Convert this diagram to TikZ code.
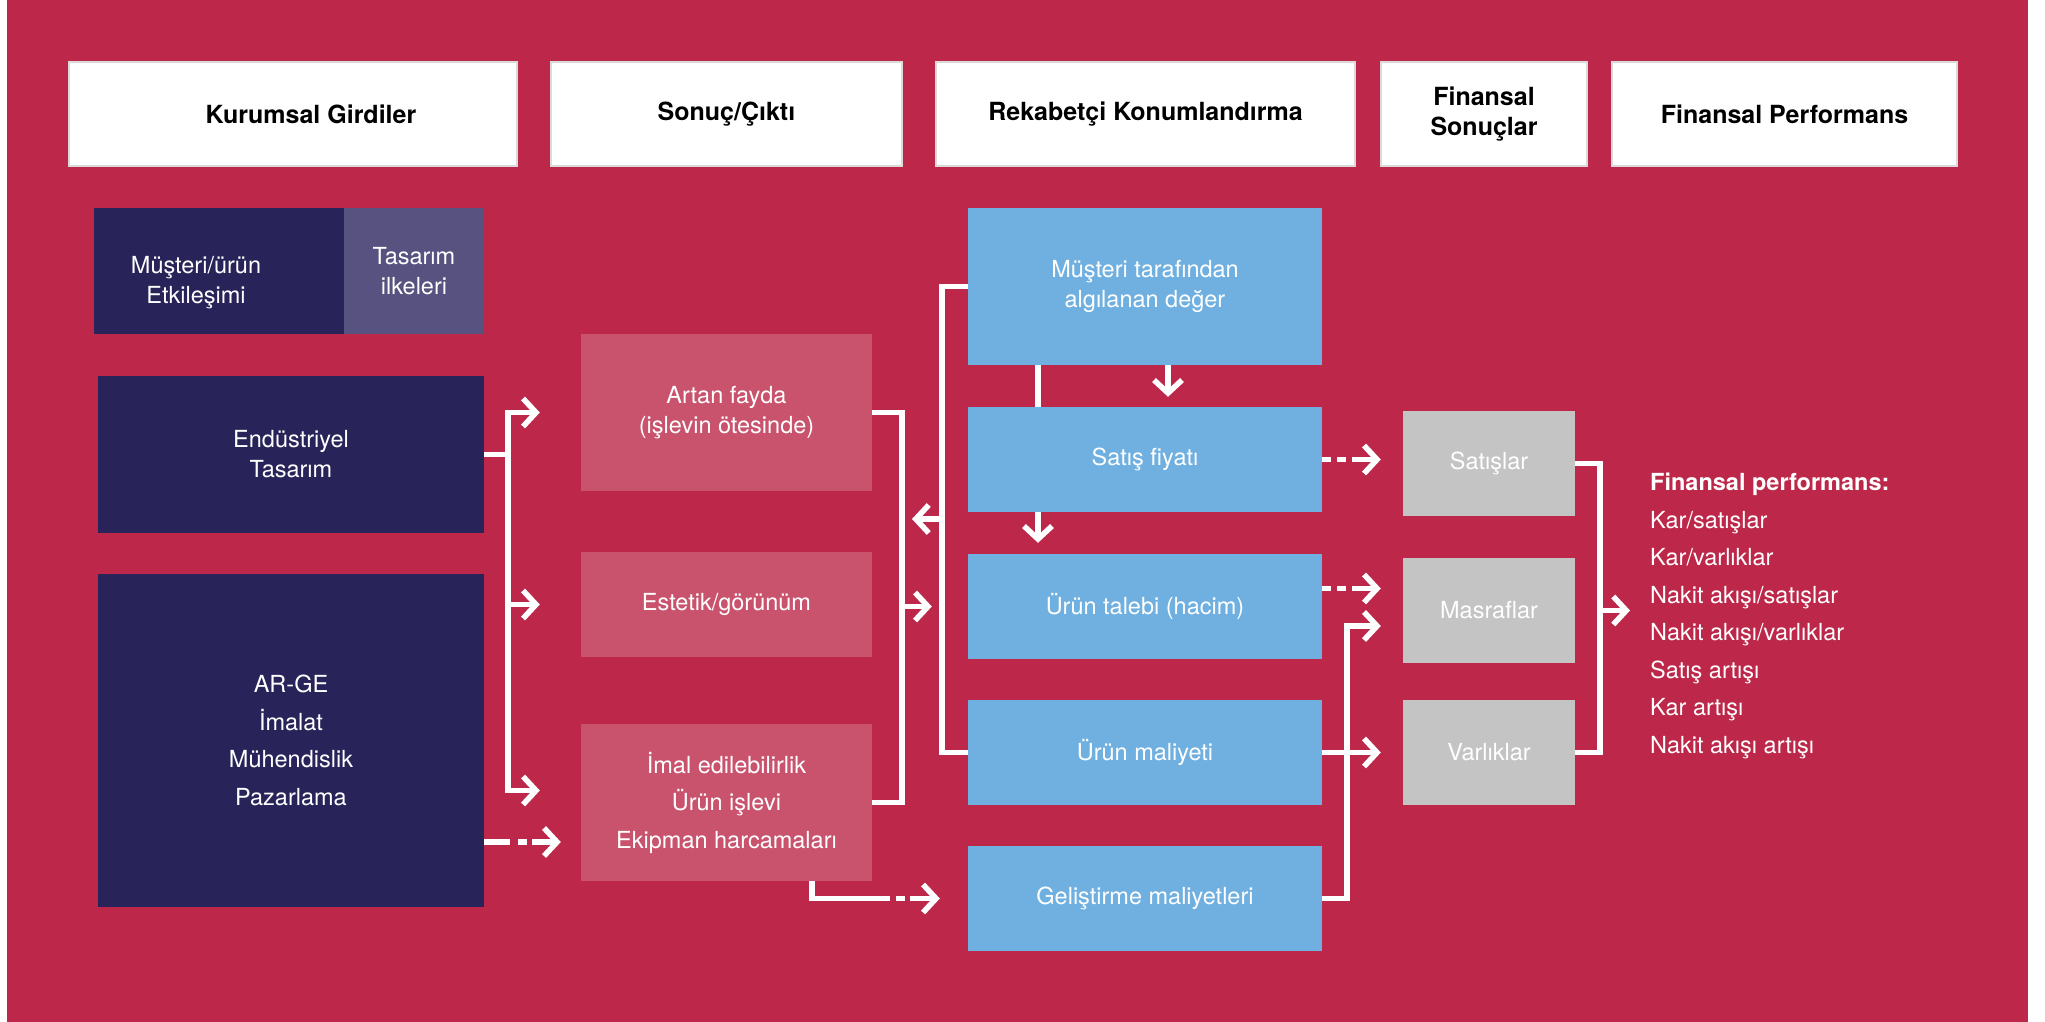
\documentclass[tikz,border=0pt]{standalone}
\usepackage{fontspec}
\setmainfont{TeX Gyre Heros}
\usetikzlibrary{arrows.meta,positioning}
\definecolor{bgcol}{RGB}{189,40,74}
\definecolor{navycol}{RGB}{40,36,90}
\definecolor{violetcol}{RGB}{87,82,127}
\definecolor{pinkcol}{RGB}{201,83,109}
\definecolor{bluecol}{RGB}{111,176,224}
\definecolor{greycol}{RGB}{196,196,196}
\definecolor{rulecol}{RGB}{218,218,218}

\begin{document}
\begin{tikzpicture}[x=1bp,y=-1bp,
  box/.style={rectangle, inner sep=0bp, align=center, text=white,
    font=\fontsize{23.5bp}{30bp}\selectfont},
  wide/.style={font=\fontsize{23.5bp}{37.5bp}\selectfont},
  headbox/.style={box, fill=white, draw=rulecol, line width=2bp, text=black,
    minimum height=104bp, font=\bfseries\fontsize{25bp}{30bp}\selectfont},
  navybox/.style={box, fill=navycol},
  violetbox/.style={box, fill=violetcol},
  pinkbox/.style={box, fill=pinkcol, minimum width=291bp},
  bluebox/.style={box, fill=bluecol, minimum width=354bp, minimum height=105bp},
  greybox/.style={box, fill=greycol, minimum width=172bp, minimum height=105bp},
  wire/.style={draw=white, line width=5.5bp},
  flow/.style={wire, -{Straight Barb[length=13bp,width=28bp]}},
  dashflow/.style={flow, dash pattern=on 26bp off 8bp on 9bp off 5bp on 100bp},
  tapflow/.style={flow, dash pattern=on 95bp off 6bp on 9bp off 5bp on 100bp},
  dotflow/.style={flow, dash pattern=on 9bp off 6bp on 9bp off 6bp on 100bp}]
\useasboundingbox (0,0) rectangle (2045,1022);
\fill[bgcol] (6.5,0) rectangle (2028,1022);
%%
  % Node: column heads
  \node[headbox, minimum width=448bp] (hinput) at (293,114) {\hspace*{36bp}Kurumsal Girdiler};
  \node[headbox, minimum width=351bp] (houtput) at (726.5,114) {Sonuç/Çıktı};
  \node[headbox, minimum width=419bp] (hposition) at (1145.5,114) {Rekabetçi Konumlandırma};
  \node[headbox, minimum width=206bp] (hresult) at (1484,114) {Finansal\\Sonuçlar};
  \node[headbox, minimum width=345bp] (hperf) at (1784.5,114) {Finansal Performans};
  % Node: inputs
  \node[navybox, minimum width=250bp, minimum height=126bp] (interact) at (219,271) {\rule{0pt}{40bp}Müşteri/ürün\hspace*{46bp}\\Etkileşimi\hspace*{46bp}};
  \node[violetbox, minimum width=140bp, minimum height=126bp] (principles) at (414,271) {Tasarım\\ilkeleri};
  \node[navybox, minimum width=386bp, minimum height=157bp] (industrial) at (291,454.5) {Endüstriyel\\Tasarım};
  \node[navybox, wide, minimum width=386bp, minimum height=333bp] (rnd) at (291,740.5) {AR-GE\\İmalat\\Mühendislik\\Pazarlama};
  % Node: outputs
  \node[pinkbox, minimum height=157bp] (benefit) at (726.5,412.5) {Artan fayda\\(işlevin ötesinde)};
  \node[pinkbox, minimum height=105bp] (aesthetic) at (726.5,604.5) {Estetik/görünüm};
  \node[pinkbox, wide, minimum height=157bp] (function) at (726.5,802.5) {İmal edilebilirlik\\Ürün işlevi\\Ekipman harcamaları};
  % Node: positioning
  \node[bluebox, minimum height=157bp] (value) at (1145,286.5) {Müşteri tarafından\\algılanan değer};
  \node[bluebox] (price) at (1145,459.5) {Satış fiyatı};
  \node[bluebox] (demand) at (1145,606.5) {Ürün talebi (hacim)};
  \node[bluebox] (unitcost) at (1145,752.5) {Ürün maliyeti};
  \node[bluebox] (devcost) at (1145,898.5) {Geliştirme maliyetleri};
  % Node: results
  \node[greybox] (sales) at (1489,463.5) {Satışlar};
  \node[greybox] (expenses) at (1489,610.5) {Masraflar};
  \node[greybox] (assets) at (1489,752.5) {Varlıklar};
  % Node: performance list
  \node[anchor=north west, inner sep=0bp, align=left, text=white,
    font=\fontsize{23.5bp}{37.5bp}\selectfont] (perflist) at (1650,473)
    {\textbf{Finansal performans:}\\Kar/satışlar\\Kar/varlıklar\\Nakit akışı/satışlar\\Nakit akışı/varlıklar\\Satış artışı\\Kar artışı\\Nakit akışı artışı};
%
  \coordinate (inbus) at (508,0);
  \coordinate (outbus) at (902,0);
  \coordinate (backbus) at (942,0);
  \coordinate (backin) at (912,519);
  \coordinate (leftdrop) at (1038,0);
  \coordinate (rightdrop) at (1168,0);
  \coordinate (devtap) at (812,0);
  \coordinate (costbus) at (1347,0);
  \coordinate (resbus) at (1600,0);
  \coordinate (perfin) at (1630,610.5);
  % Edge: industrial -> benefit, aesthetic, function
  \draw[flow, shorten >=41bp] (industrial.east) -| (inbus |- benefit.west) -- (benefit.west);
  \draw[flow, shorten >=41bp] (inbus |- industrial.east) |- ([yshift=12bp]function.west);
  \draw[flow, shorten >=41bp] (inbus |- aesthetic.west) -- (aesthetic.west);
  % Edge: rnd -> function
  \draw[dashflow, shorten >=20bp] (rnd.east |- 0,842) -- (function.west |- 0,842);
  % Edge: benefit, function -> demand
  \draw[wire] (benefit.east) -| (outbus |- function.east) -- (function.east);
  \draw[flow, shorten >=36bp] (outbus |- demand.west) -- (demand.west);
  % Edge: value, unitcost -> outputs
  \draw[wire] (value.west) -| (backbus |- unitcost.west) -- (unitcost.west);
  \draw[flow] (backbus |- backin) -- (backin);
  % Edge: value -> price -> demand
  \draw[wire] (leftdrop |- value.south) -- (leftdrop |- price.north);
  \draw[flow, shorten >=10bp] (rightdrop |- value.south) -- (rightdrop |- price.north);
  \draw[flow, shorten >=11bp] (leftdrop |- price.south) -- (leftdrop |- demand.north);
  % Edge: function -> devcost
  \draw[tapflow, shorten >=28bp] (devtap |- function.south) |- (devcost.west);
  % Edge: price -> sales
  \draw[dotflow, shorten >=22bp] (price.east) -- (sales.west |- price.east);
  % Edge: demand -> expenses
  \draw[dotflow, shorten >=22bp] (demand.east |- 0,588.5) -- (expenses.west |- 0,588.5);
  % Edge: unitcost -> assets
  \draw[flow, shorten >=22bp] (unitcost.east) -- (assets.west);
  % Edge: devcost -> expenses
  \draw[flow, shorten >=22bp] (devcost.east) -| (costbus |- 0,626) -- (expenses.west |- 0,626);
  % Edge: sales, assets -> perflist
  \draw[wire] (sales.east) -| (resbus |- assets.east) -- (assets.east);
  \draw[flow] (resbus |- perfin) -- (perfin);
%
\end{tikzpicture}
\end{document}
